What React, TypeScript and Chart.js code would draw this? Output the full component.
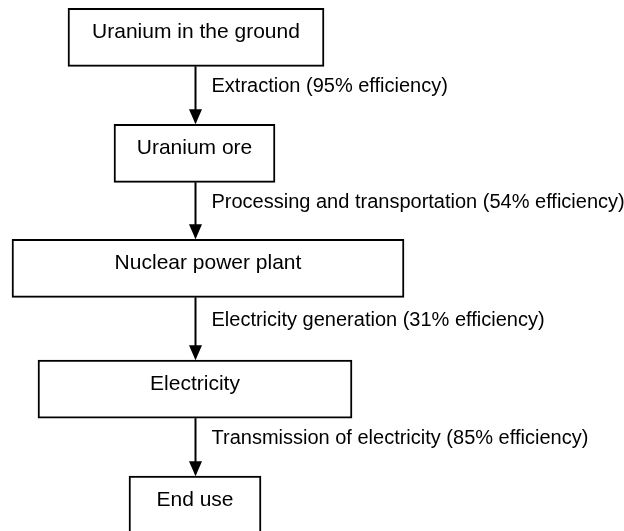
import React, { useEffect, useRef } from "react";
import { Chart, registerables } from "chart.js";

Chart.register(...registerables);

// ---- data ----
const stages = [
  "Uranium in the ground",
  "Uranium ore",
  "Nuclear power plant",
  "Electricity",
  "End use",
];
const steps = [
  "Extraction",
  "Processing and transportation",
  "Electricity generation",
  "Transmission of electricity",
];
const efficiencies = [95, 54, 31, 85];

// ---- layout (scale units, x: 0..624, y: 0..531 top-down) ----
const boxStart = [68, 114, 12, 38, 129];
const boxEnd = [324, 275, 404, 352, 261];
const boxCenterY = [37.3, 153.3, 268.3, 389.2, 505.2];
const arrowX = 195.5;
const labelX = 211.5;

const W = 624;
const H = 531;

const flowPlugin = {
  id: "flowText",
  afterDatasetsDraw(chart: any) {
    const { ctx } = chart;
    const meta = chart.getDatasetMeta(0);
    const xs = chart.scales.x;
    const els = meta.data;
    ctx.save();
    ctx.fillStyle = "#000";
    ctx.strokeStyle = "#000";
    // box labels
    ctx.font = '21px "Liberation Sans", Arial, sans-serif';
    ctx.textAlign = "center";
    ctx.textBaseline = "alphabetic";
    els.forEach((el: any, i: number) => {
      const p = el.getProps(["x", "y", "base", "height"], true);
      const cx = (p.x + p.base) / 2;
      const top = p.y - p.height / 2;
      ctx.fillText(stages[i], cx, top + 29.5);
    });
    // arrows + step labels
    const ax = xs.getPixelForValue(arrowX);
    const lx = xs.getPixelForValue(labelX);
    ctx.font = '20px "Liberation Sans", Arial, sans-serif';
    ctx.textAlign = "left";
    for (let i = 0; i < steps.length; i++) {
      const a = els[i].getProps(["y", "height"], true);
      const b = els[i + 1].getProps(["y", "height"], true);
      const y0 = a.y + a.height / 2;
      const y1 = b.y - b.height / 2;
      const headH = 15;
      const headW = 13;
      ctx.lineWidth = 2;
      ctx.beginPath();
      ctx.moveTo(ax, y0);
      ctx.lineTo(ax, y1 - headH + 1);
      ctx.stroke();
      ctx.beginPath();
      ctx.moveTo(ax - headW / 2, y1 - headH);
      ctx.lineTo(ax + headW / 2, y1 - headH);
      ctx.lineTo(ax, y1);
      ctx.closePath();
      ctx.fill();
      const mid = (y0 + y1) / 2;
      ctx.fillText(`${steps[i]} (${efficiencies[i]}% efficiency)`, lx, mid - 3);
    }
    ctx.restore();
  },
};

export default function App() {
  const ref = useRef<HTMLCanvasElement | null>(null);
  useEffect(() => {
    document.body.style.margin = "0";
    const canvas = ref.current;
    if (!canvas) return;
    const chart = new Chart(canvas, {
      type: "bar",
      data: {
        datasets: [
          {
            data: stages.map((_, i) => ({
              x: [boxStart[i], boxEnd[i]],
              y: boxCenterY[i],
            })) as any,
            backgroundColor: "#ffffff",
            borderColor: "#000000",
            borderWidth: 2,
            borderSkipped: false,
            barThickness: 58,
          },
        ],
      },
      options: {
        indexAxis: "y",
        responsive: false,
        animation: false,
        events: [],
        layout: { padding: 0 },
        plugins: {
          legend: { display: false },
          title: { display: false },
          tooltip: { enabled: false },
        },
        scales: {
          x: { type: "linear", min: 0, max: W, display: false, offset: false },
          y: { type: "linear", min: 0, max: H, reverse: true, display: false, offset: false },
        },
      },
      plugins: [flowPlugin],
    });
    return () => chart.destroy();
  }, []);
  return (
    <div style={{ width: W, height: H, background: "#fff" }}>
      <canvas ref={ref} width={W} height={H} style={{ display: "block" }} />
    </div>
  );
}
